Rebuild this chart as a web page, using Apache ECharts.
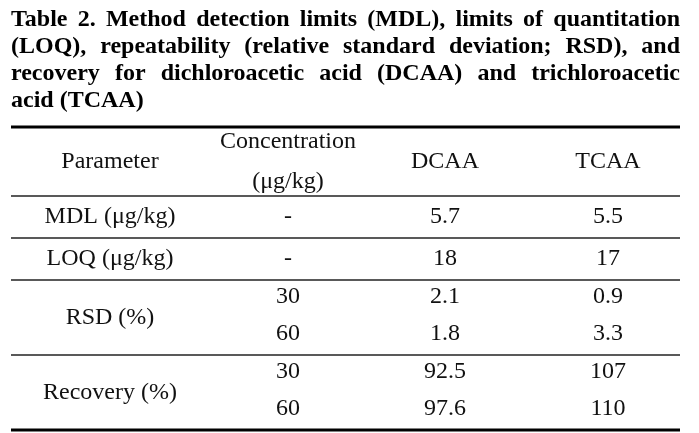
<!DOCTYPE html>
<html>
<head>
<meta charset="utf-8">
<script src="https://cdn.jsdelivr.net/npm/echarts@6/dist/echarts.min.js"></script>
<style>
html,body{margin:0;padding:0;background:#fff;}
#chart{width:699px;height:433px;}
</style>
</head>
<body>
<div id="chart"></div>
<script>
// ---- Table content ----
const titleLines = [
  'Table 2. Method detection limits (MDL), limits of quantitation',
  '(LOQ), repeatability (relative standard deviation; RSD), and',
  'recovery for dichloroacetic acid (DCAA) and trichloroacetic',
  'acid (TCAA)'
];
const headerParameter = 'Parameter';
const headerConcentration = ['Concentration', '(μg/kg)'];
const headerCompounds = ['DCAA', 'TCAA'];
const parameters = ['MDL (μg/kg)', 'LOQ (μg/kg)', 'RSD (%)', 'Recovery (%)'];
const concentrations = [['-'], ['-'], ['30', '60'], ['30', '60']];
const dcaa = [['5.7'], ['18'], ['2.1', '1.8'], ['92.5', '97.6']];
const tcaa = [['5.5'], ['17'], ['0.9', '3.3'], ['107', '110']];

// ---- Layout (not data) ----
const FONT_FAMILY = '"Liberation Serif","Times New Roman",serif';
const BODY_FONT = '24px ' + FONT_FAMILY;
const TITLE_FONT = 'bold 24px ' + FONT_FAMILY;
const HEADER_H = 69, SINGLE_H = 42, DOUBLE_H = 75;
const HEADER_LINE_OFF = 20;
const SUB_OFF = [-21, 16];
const TABLE_LEFT = 11, TABLE_RIGHT = 680, TABLE_TOP = 127, TABLE_BOTTOM = 430;
const TITLE_Y0 = 20, TITLE_DY = 27;
const COL_CENTERS = [110, 288, 445, 608]; // pixel x of the column centres

// row boundaries (in table y-units = px from the top rule)
const blocks = [HEADER_H];
parameters.forEach((p, i) => blocks.push(concentrations[i].length > 1 ? DOUBLE_H : SINGLE_H));
const bounds = [0];
blocks.forEach(h => bounds.push(bounds[bounds.length - 1] + h));
const yMax = bounds[bounds.length - 1];

// build cells
const cells = [];
const hc = HEADER_H / 2;
cells.push({col: 0, y: hc, text: headerParameter});
cells.push({col: 1, y: hc - HEADER_LINE_OFF, text: headerConcentration[0]});
cells.push({col: 1, y: hc + HEADER_LINE_OFF, text: headerConcentration[1]});
cells.push({col: 2, y: hc, text: headerCompounds[0]});
cells.push({col: 3, y: hc, text: headerCompounds[1]});
parameters.forEach((p, i) => {
  const top = bounds[i + 1], bot = bounds[i + 2];
  const c = (top + bot) / 2;
  cells.push({col: 0, y: c, text: p});
  const n = concentrations[i].length;
  for (let k = 0; k < n; k++) {
    const yy = n > 1 ? c + SUB_OFF[k] : c;
    cells.push({col: 1, y: yy, text: concentrations[i][k]});
    cells.push({col: 2, y: yy, text: dcaa[i][k]});
    cells.push({col: 3, y: yy, text: tcaa[i][k]});
  }
});

// rules
const rules = bounds.map((b, i) => ({y: b, thick: i === 0 || i === bounds.length - 1}));

// ---- Title (justified) ----
const mctx = document.createElement('canvas').getContext('2d');
mctx.font = TITLE_FONT;
const titleElements = [];
titleLines.forEach((line, li) => {
  const y = TITLE_Y0 + li * TITLE_DY;
  const words = line.split(' ');
  const justify = li < titleLines.length - 1;
  if (!justify) {
    titleElements.push({type: 'text', x: TABLE_LEFT, y: y,
      style: {text: line, font: TITLE_FONT, fill: '#000', textAlign: 'left', align: 'left', textVerticalAlign: 'middle', verticalAlign: 'middle'}});
    return;
  }
  const widths = words.map(w => mctx.measureText(w).width);
  const total = widths.reduce((a, b) => a + b, 0);
  const gap = (TABLE_RIGHT - TABLE_LEFT - total) / (words.length - 1);
  let x = TABLE_LEFT;
  words.forEach((w, wi) => {
    titleElements.push({type: 'text', x: x, y: y,
      style: {text: w, font: TITLE_FONT, fill: '#000', textAlign: 'left', align: 'left', textVerticalAlign: 'middle', verticalAlign: 'middle'}});
    x += widths[wi] + gap;
  });
});

const chart = echarts.init(document.getElementById('chart'), null, {renderer: 'canvas'});
chart.setOption({
  animation: false,
  backgroundColor: '#fff',
  grid: {left: TABLE_LEFT, right: 699 - TABLE_RIGHT, top: TABLE_TOP, bottom: 433 - TABLE_BOTTOM, containLabel: false},
  xAxis: {type: 'value', min: TABLE_LEFT, max: TABLE_RIGHT, show: false},
  yAxis: {type: 'value', min: 0, max: yMax, inverse: true, show: false},
  graphic: {elements: titleElements},
  series: [
    {
      type: 'custom',
      clip: false,
      data: rules.map(r => [TABLE_LEFT, r.y]),
      renderItem: function (params, api) {
        const r = rules[params.dataIndex];
        const p1 = api.coord([TABLE_LEFT, api.value(1)]);
        const p2 = api.coord([TABLE_RIGHT, api.value(1)]);
        return {type: 'line', shape: {x1: p1[0], y1: p1[1], x2: p2[0], y2: p2[1]},
          style: {stroke: r.thick ? '#000' : '#222', lineWidth: r.thick ? 3 : 1.6}};
      }
    },
    {
      type: 'custom',
      clip: false,
      data: cells.map(c => [COL_CENTERS[c.col], c.y]),
      renderItem: function (params, api) {
        const c = cells[params.dataIndex];
        const p = api.coord([api.value(0), api.value(1)]);
        return {type: 'text', x: p[0], y: p[1],
          style: {text: c.text, font: BODY_FONT, fill: '#111', textAlign: 'center', align: 'center', textVerticalAlign: 'middle', verticalAlign: 'middle'}};
      }
    }
  ]
});
</script>
</body>
</html>
